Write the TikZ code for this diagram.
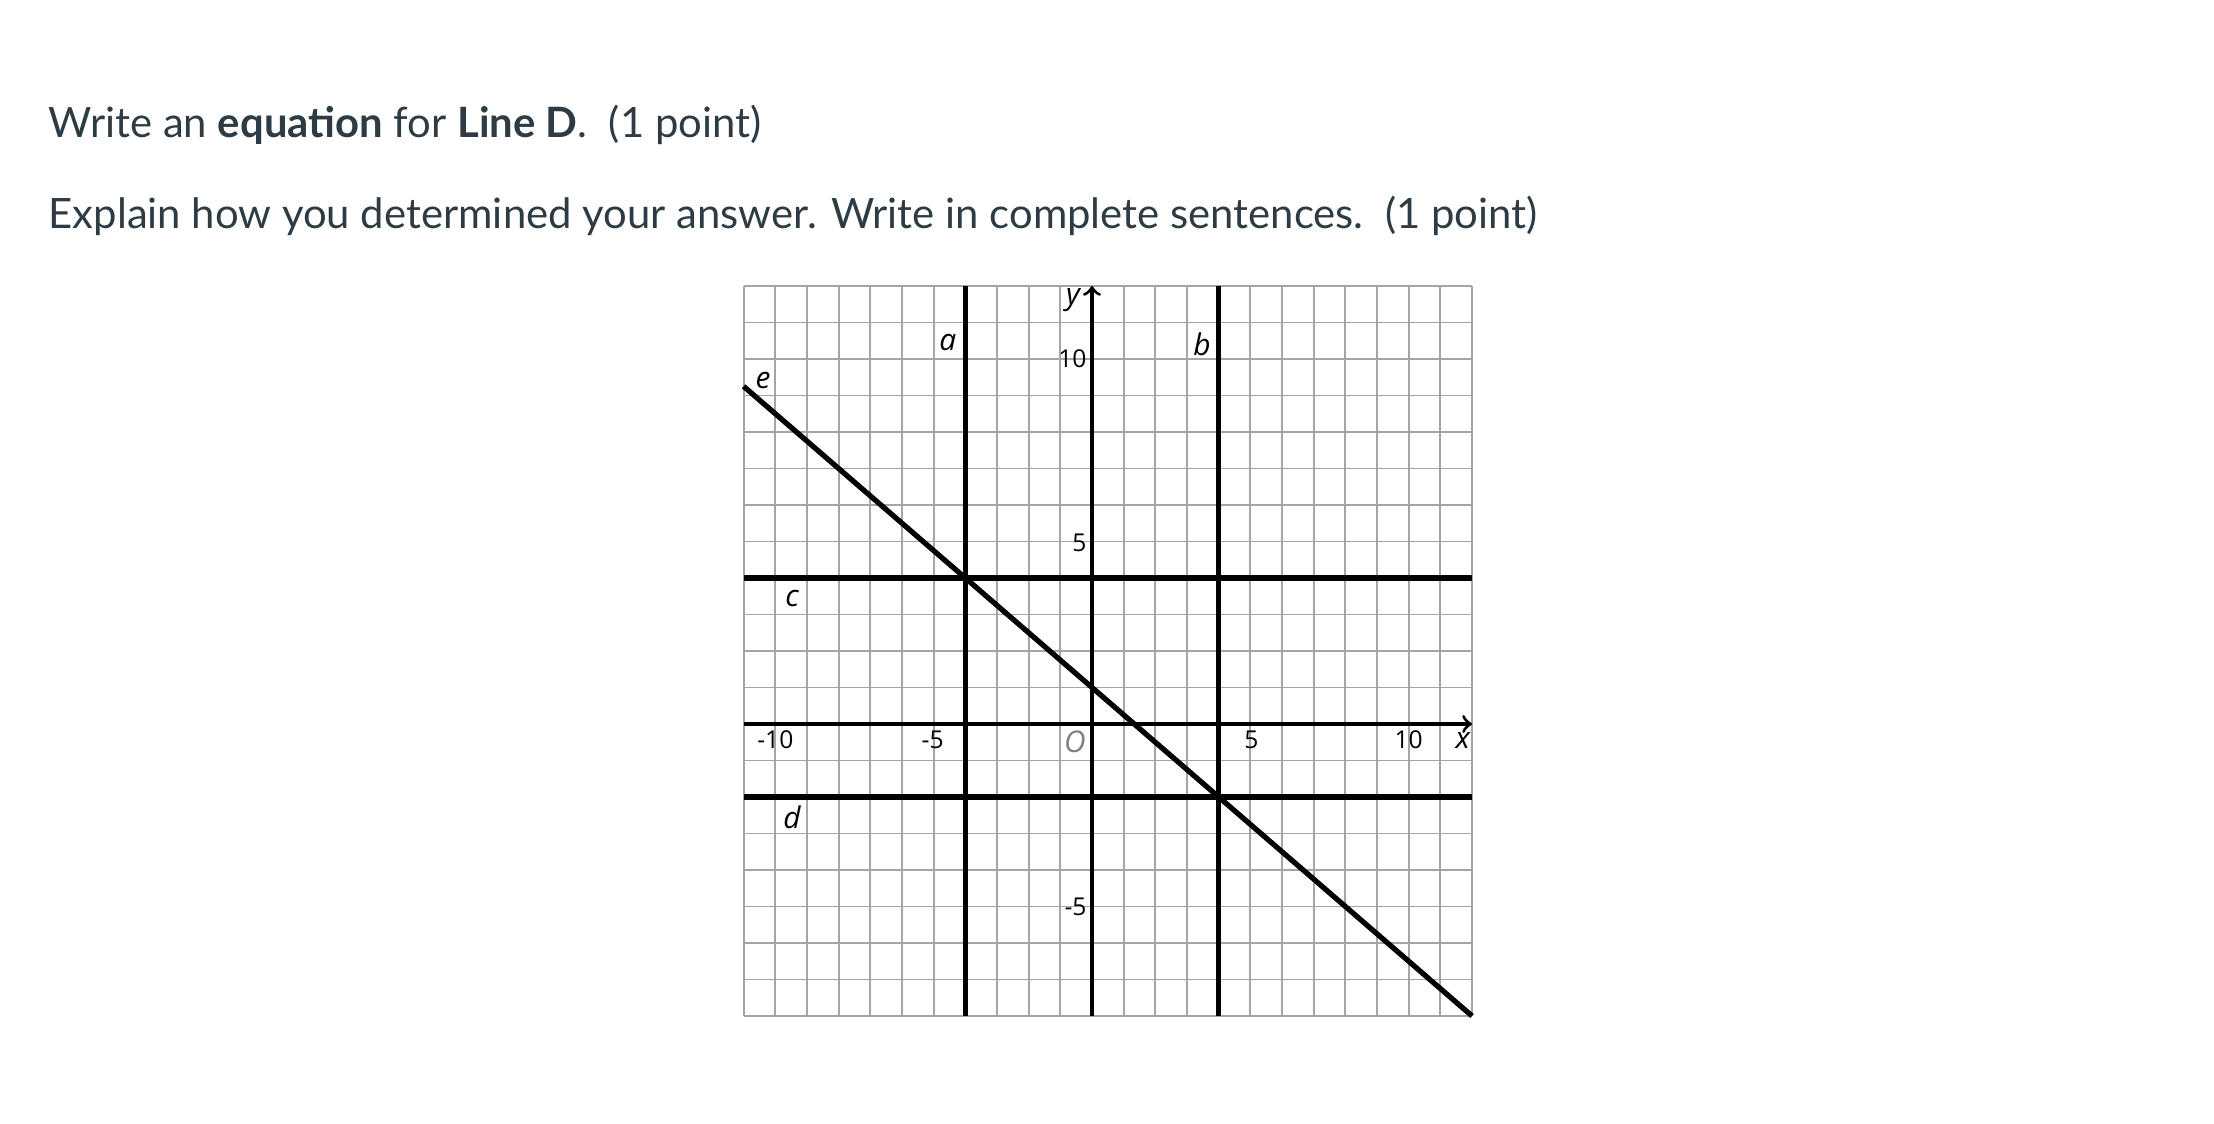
\documentclass[tikz,border=0pt]{standalone}
\usepackage{fontspec}
\setmainfont{Lato}
\newfontfamily\axisfont{Open Sans}
\definecolor{canvastext}{RGB}{45,59,69}
\definecolor{gridgray}{RGB}{165,165,165}

\begin{document}
\begin{tikzpicture}[gridline/.style={draw=gridgray, line width=0.55pt},
    heavy/.style={draw=black, line width=1.5pt},
    axis/.style={draw=black, line width=0.9pt, ->, >=to},
    lbl/.style={font=\axisfont\itshape\fontsize{8.5}{8.5}\selectfont, inner sep=0pt},
    num/.style={font=\axisfont\fontsize{7}{7}\selectfont, inner sep=0pt},
    question/.style={font=\fontsize{11.9}{14}\selectfont, text=canvastext,
        anchor=base west, inner sep=0pt}]
\useasboundingbox (-10.92,-4.00) rectangle (11.22,7.24);

\node[question] (q1) at (-10.44,5.86) {Write an \textbf{equation} for \textbf{Line D}.\ \ (1 point)};
\node[question] (q2) at (-10.44,4.95) {Explain how you determined your answer. Write in complete sentences.\ \ (1 point)};

\begin{scope}[x=0.3167cm, y=0.365cm]
  % grid
  \foreach \i in {-11,...,12} \draw[gridline] (\i,-8) -- (\i,12);
  \foreach \j in {-8,...,12} \draw[gridline] (-11,\j) -- (12,\j);

  % axes
  \coordinate (xs) at (-11,0);
  \coordinate (xe) at (12,0);
  \coordinate (ys) at (0,-8);
  \coordinate (ye) at (0,12);
  \draw[axis] (xs) -- (xe);
  \draw[axis] (ys) -- (ye);

  % the five lines
  \coordinate (a1) at (-4,-8);  \coordinate (a2) at (-4,12);
  \coordinate (b1) at (4,-8);   \coordinate (b2) at (4,12);
  \coordinate (c1) at (-11,4);  \coordinate (c2) at (12,4);
  \coordinate (d1) at (-11,-2); \coordinate (d2) at (12,-2);
  \coordinate (e1) at (-11,9.25); \coordinate (e2) at (12,-8);
  \draw[heavy] (a1) -- (a2);
  \draw[heavy] (b1) -- (b2);
  \draw[heavy] (c1) -- (c2);
  \draw[heavy] (d1) -- (d2);
  \draw[heavy] (e1) -- (e2);

  % names
  \node[lbl] (la) at (-4.55,10.44) {a};
  \node[lbl] (lb) at (3.47,10.4) {b};
  \node[lbl] (lc) at (-9.47,3.45) {c};
  \node[lbl] (ld) at (-9.47,-2.55) {d};
  \node[lbl] (le) at (-10.39,9.42) {e};
  \node[lbl] (lx) at (11.71,-0.44) {x};
  \node[lbl] (ly) at (-0.6,11.6) {y};

  % numbers
  \node[num] (xm10) at (-10,-0.44) {-10};
  \node[num] (xm5) at (-5.03,-0.44) {-5};
  \node[num] (xp5) at (5.03,-0.44) {5};
  \node[num] (xp10) at (10,-0.44) {10};
  \node[num, anchor=east] (yp10) at (-0.15,10) {10};
  \node[num, anchor=east] (yp5) at (-0.15,4.95) {5};
  \node[num, anchor=east] (ym5) at (-0.15,-5) {-5};
  \node[lbl, text=gray] (orig) at (-0.54,-0.49) {O};
\end{scope}
\end{tikzpicture}
\end{document}
